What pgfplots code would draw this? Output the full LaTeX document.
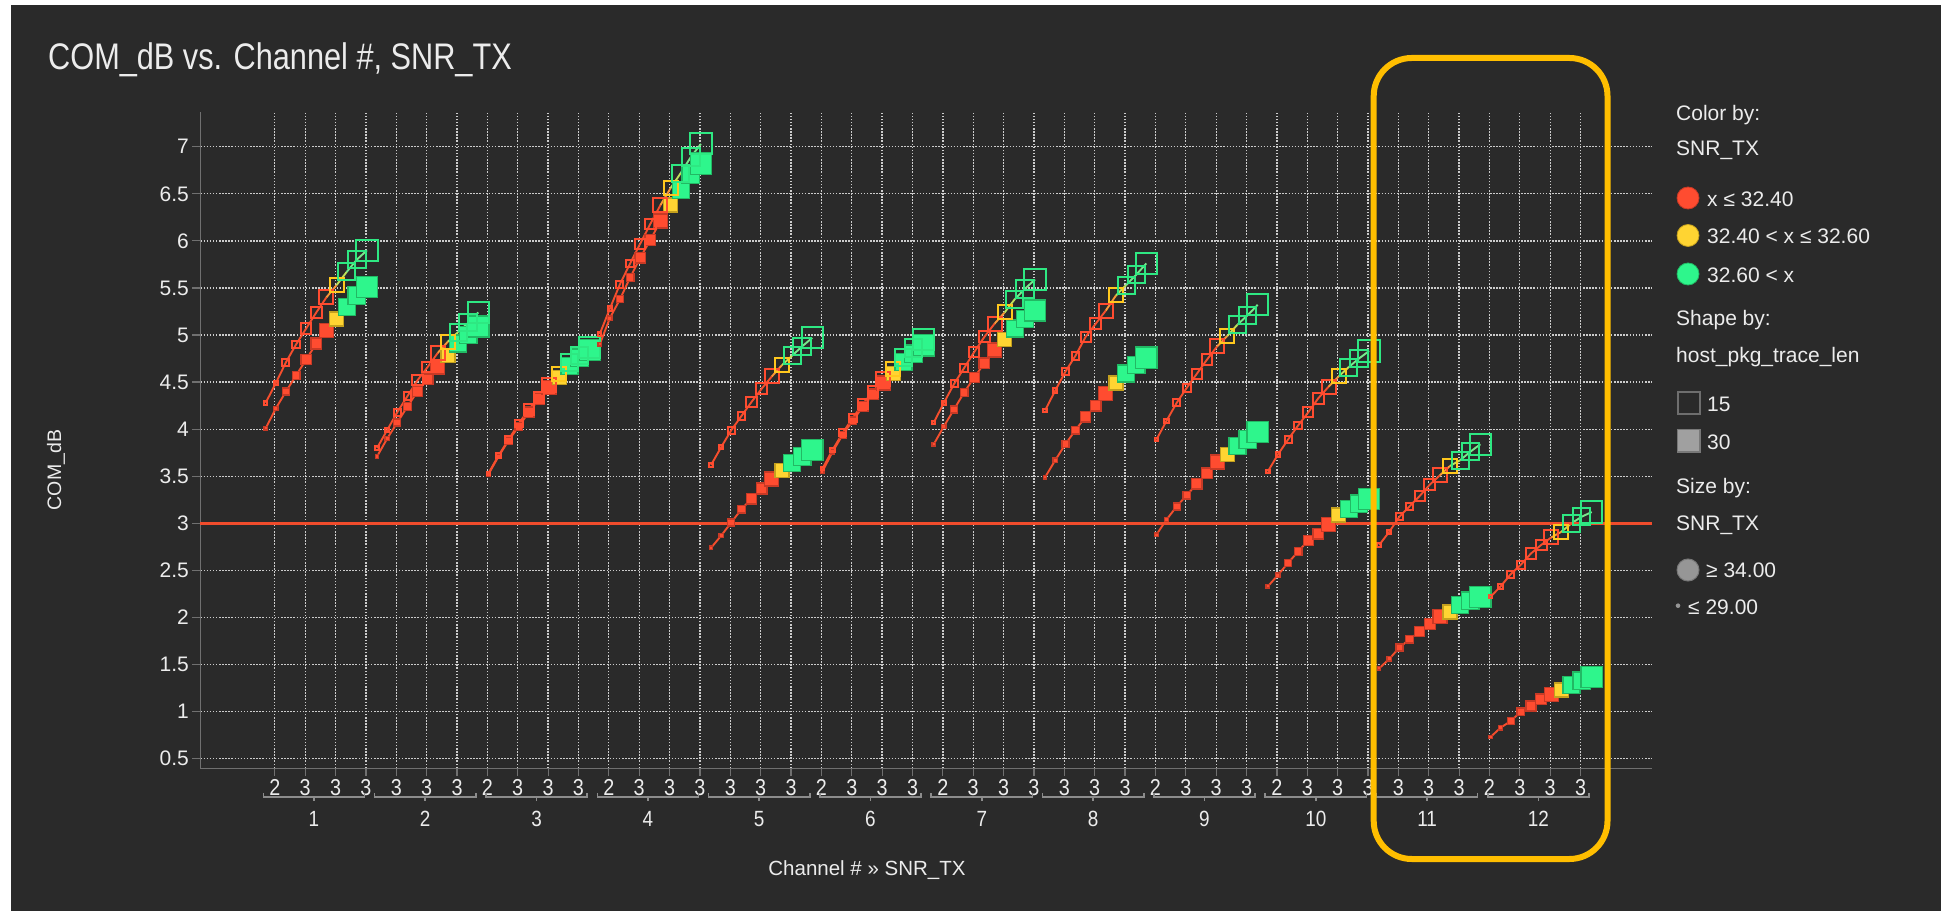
\documentclass[border=0pt]{standalone}
\usepackage{pgfplots}
\pgfplotsset{compat=1.18}
\usepackage{pgfplotstable}
\usepackage{fontspec}
\setmainfont{Liberation Sans}
\newfontfamily\condf[FakeStretch=0.86]{Liberation Sans}
\newfontfamily\titlef[FakeStretch=0.83]{Liberation Sans}

\definecolor{bg}{RGB}{42,42,42}
\definecolor{txt}{RGB}{236,236,236}
\definecolor{axg}{RGB}{112,112,112}
\definecolor{gridc}{RGB}{205,205,205}
\definecolor{brk}{RGB}{140,140,140}
\definecolor{hR}{RGB}{255,76,48}
\definecolor{fR}{RGB}{255,76,48}
\definecolor{eR}{RGB}{200,58,38}
\definecolor{hY}{RGB}{255,200,30}
\definecolor{fY}{RGB}{255,212,50}
\definecolor{eY}{RGB}{196,160,30}
\definecolor{hG}{RGB}{46,232,130}
\definecolor{fG}{RGB}{46,246,140}
\definecolor{eG}{RGB}{34,185,100}
\definecolor{lR}{RGB}{245,78,45}
\definecolor{lO}{RGB}{250,150,55}
\definecolor{lYG}{RGB}{190,225,90}
\definecolor{lG}{RGB}{120,232,140}
\definecolor{thr}{RGB}{240,76,44}
\definecolor{amber}{RGB}{255,190,0}
\definecolor{legO}{RGB}{110,110,110}
\definecolor{legF}{RGB}{160,160,160}
\definecolor{legE}{RGB}{120,120,120}
\definecolor{legC}{RGB}{150,150,150}

% j = SNR step (29.0, 29.5, ..., 34.0); c = colour class; s = half side of marker (pt)
% a = host_pkg_trace_len 15 (hollow), b = host_pkg_trace_len 30 (filled)
\pgfplotstableread{
j c s a b
0 R 1.7 4.28 4.01
1 R 2.2 4.49 4.22
2 R 3.5 4.71 4.40
3 R 3.8 4.90 4.57
4 R 5.1 5.07 4.74
5 R 5.4 5.24 4.91
6 R 7.0 5.40 5.05
7 Y 7.0 5.53 5.17
8 G 8.5 5.67 5.30
9 G 8.7 5.80 5.42
10 G 10.6 5.90 5.51
}\tabA
\pgfplotstableread{
j c s a b
0 R 1.7 3.80 3.71
1 R 2.2 3.99 3.90
2 R 3.5 4.18 4.07
3 R 3.8 4.35 4.24
4 R 5.1 4.52 4.40
5 R 5.4 4.66 4.53
6 R 7.0 4.81 4.66
7 Y 7.0 4.93 4.78
8 G 8.5 5.03 4.91
9 G 8.7 5.13 5.00
10 G 10.6 5.24 5.09
}\tabB
\pgfplotstableread{
j c s a b
0 R 1.7 3.53 3.52
1 R 2.2 3.72 3.71
2 R 3.5 3.89 3.88
3 R 3.8 4.06 4.03
4 R 5.1 4.21 4.18
5 R 5.4 4.34 4.32
6 R 7.0 4.47 4.44
7 Y 7.0 4.59 4.55
8 G 8.5 4.71 4.67
9 G 8.7 4.78 4.76
10 G 10.6 4.87 4.84
}\tabC
\pgfplotstableread{
j c s a b
0 R 1.7 5.01 4.90
1 R 2.2 5.28 5.18
2 R 3.5 5.54 5.38
3 R 3.8 5.76 5.61
4 R 5.1 5.97 5.82
5 R 5.4 6.18 6.01
6 R 7.0 6.38 6.21
7 Y 7.0 6.56 6.38
8 G 8.5 6.72 6.54
9 G 8.7 6.89 6.70
10 G 10.6 7.03 6.82
}\tabD
\pgfplotstableread{
j c s a b
0 R 1.7 3.62 2.74
1 R 2.2 3.81 2.87
2 R 3.5 3.99 3.01
3 R 3.8 4.14 3.15
4 R 5.1 4.29 3.26
5 R 5.4 4.43 3.37
6 R 7.0 4.56 3.47
7 Y 7.0 4.68 3.56
8 G 8.5 4.78 3.64
9 G 8.7 4.88 3.71
10 G 10.6 4.97 3.78
}\tabE
\pgfplotstableread{
j c s a b
0 R 1.7 3.58 3.55
1 R 2.2 3.78 3.76
2 R 3.5 3.96 3.94
3 R 3.8 4.12 4.09
4 R 5.1 4.27 4.24
5 R 5.4 4.40 4.37
6 R 7.0 4.53 4.49
7 Y 7.0 4.64 4.59
8 G 8.5 4.76 4.71
9 G 8.7 4.86 4.80
10 G 10.6 4.95 4.89
}\tabF
\pgfplotstableread{
j c s a b
0 R 1.7 4.07 3.84
1 R 2.2 4.28 4.03
2 R 3.5 4.48 4.21
3 R 3.8 4.65 4.39
4 R 5.1 4.82 4.55
5 R 5.4 4.98 4.70
6 R 7.0 5.12 4.84
7 Y 7.0 5.24 4.95
8 G 8.5 5.38 5.07
9 G 8.7 5.49 5.17
10 G 10.6 5.59 5.26
}\tabG
\pgfplotstableread{
j c s a b
0 R 1.7 4.20 3.49
1 R 2.2 4.41 3.67
2 R 3.5 4.61 3.84
3 R 3.8 4.78 3.99
4 R 5.1 4.98 4.13
5 R 5.4 5.12 4.25
6 R 7.0 5.26 4.38
7 Y 7.0 5.42 4.49
8 G 8.5 5.53 4.59
9 G 8.7 5.64 4.68
10 G 10.6 5.76 4.76
}\tabH
\pgfplotstableread{
j c s a b
0 R 1.7 3.89 2.88
1 R 2.2 4.09 3.04
2 R 3.5 4.28 3.18
3 R 3.8 4.44 3.30
4 R 5.1 4.59 3.42
5 R 5.4 4.74 3.53
6 R 7.0 4.88 3.65
7 Y 7.0 4.99 3.73
8 G 8.5 5.11 3.82
9 G 8.7 5.21 3.89
10 G 10.6 5.32 3.97
}\tabI
\pgfplotstableread{
j c s a b
0 R 1.7 3.55 2.33
1 R 2.2 3.73 2.45
2 R 3.5 3.89 2.58
3 R 3.8 4.04 2.70
4 R 5.1 4.18 2.82
5 R 5.4 4.33 2.89
6 R 7.0 4.45 2.99
7 Y 7.0 4.56 3.09
8 G 8.5 4.66 3.15
9 G 8.7 4.75 3.21
10 G 10.6 4.83 3.26
}\tabJ
\pgfplotstableread{
j c s a b
0 R 1.7 2.77 1.46
1 R 2.2 2.91 1.56
2 R 3.5 3.07 1.68
3 R 3.8 3.18 1.77
4 R 5.1 3.29 1.85
5 R 5.4 3.41 1.93
6 R 7.0 3.51 2.01
7 Y 7.0 3.61 2.06
8 G 8.5 3.67 2.13
9 G 8.7 3.76 2.18
10 G 10.6 3.84 2.22
}\tabK
\pgfplotstableread{
j c s a b
0 R 1.7 2.22 0.73
1 R 2.2 2.33 0.83
2 R 3.5 2.46 0.90
3 R 3.8 2.56 1.00
4 R 5.1 2.68 1.06
5 R 5.4 2.77 1.13
6 R 7.0 2.85 1.18
7 Y 7.0 2.91 1.23
8 G 8.5 3.00 1.28
9 G 8.7 3.07 1.33
10 G 10.6 3.12 1.37
}\tabL

\pgfplotsset{
  hollowsq/.style={only marks, scatter, scatter src=explicit symbolic,
    scatter/classes={
      R={mark=square, draw=hR, line width=2pt},
      Y={mark=square, draw=hY, line width=2pt},
      G={mark=square, draw=hG, line width=2pt}},
    visualization depends on={\thisrow{s} \as \msz},
    scatter/@pre marker code/.append style={/tikz/mark size={\msz pt}}},
  filledsq/.style={only marks, scatter, scatter src=explicit symbolic,
    scatter/classes={
      R={mark=square*, draw=eR, fill=fR, line width=1.3pt},
      Y={mark=square*, draw=eY, fill=fY, line width=1.3pt},
      G={mark=square*, draw=eG, fill=fG, line width=1.3pt}},
    visualization depends on={\thisrow{s} \as \msz},
    scatter/@pre marker code/.append style={/tikz/mark size={\msz pt}}},
  lseg/.style={no markers, draw=#1, line width=1.9pt},
}

\newcommand\drawline[3]{% table, offset, column
  \addplot[lseg=lR, restrict expr to domain={\thisrow{j}}{0:6}] table[x expr=\thisrow{j}+#2, y=#3]{#1};
  \addplot[lseg=lO, restrict expr to domain={\thisrow{j}}{6:7}] table[x expr=\thisrow{j}+#2, y=#3]{#1};
  \addplot[lseg=lYG, restrict expr to domain={\thisrow{j}}{7:8}] table[x expr=\thisrow{j}+#2, y=#3]{#1};
  \addplot[lseg=lG, restrict expr to domain={\thisrow{j}}{8:10}] table[x expr=\thisrow{j}+#2, y=#3]{#1};
}
\newcommand\drawch[2]{%
  \addplot[filledsq] table[x expr=\thisrow{j}+#2, y=b, meta=c]{#1};
  \addplot[hollowsq] table[x expr=\thisrow{j}+#2, y=a, meta=c]{#1};
  \drawline{#1}{#2}{b}
  \drawline{#1}{#2}{a}
}

\begin{document}
\begin{tikzpicture}[x=1pt,y=1pt]
\useasboundingbox (0,0) rectangle (1941,911);
\fill[white] (0,0) rectangle (1941,911);
\fill[bg] (11,0) rectangle (1941,906);

\node[anchor=base west, inner sep=0, text=txt, font=\titlef\fontsize{37}{40}\selectfont] at (48,841) {COM\_dB vs. Channel \#, SNR\_TX};

\begin{axis}[
  at={(198,151.7)}, anchor=south west,
  scale only axis, width=1452pt, height=656.3pt,
  xmin=-6.45, xmax=137, ymin=0.4, ymax=7.37,
  axis lines*=left,
  axis line style={draw=axg, line width=1.3pt},
  xtick={0.9,3.9,...,130},
  xticklabels={2,3,3,3, 3,3,3, 2,3,3,3, 2,3,3,3, 3,3,3, 2,3,3,3, 2,3,3,3, 3,3,3, 2,3,3,3, 2,3,3,3, 3,3,3, 2,3,3,3},
  ytick={0.5,1,...,7},
  tick align=outside, major tick length=8pt,
  tick style={draw=axg, line width=1.2pt},
  grid=major,
  major grid style={draw=gridc, line width=1.3pt, dash pattern=on 1.5pt off 1.6pt},
  xticklabel style={font=\condf\fontsize{23}{25}\selectfont, text=txt},
  yticklabel style={font=\fontsize{21}{24}\selectfont, text=txt},
  /pgf/number format/assume math mode=true,
  clip=false,
]
\drawch{\tabA}{0}
\drawch{\tabB}{11}
\drawch{\tabC}{22}
\drawch{\tabD}{33}
\drawch{\tabE}{44}
\drawch{\tabF}{55}
\drawch{\tabG}{66}
\drawch{\tabH}{77}
\drawch{\tabI}{88}
\drawch{\tabJ}{99}
\drawch{\tabK}{110}
\drawch{\tabL}{121}
\draw[thr, line width=3pt] (axis cs:-6.45,3) -- (axis cs:137,3);
\end{axis}

% channel brackets and labels
\foreach \c in {1,...,12}{
  \pgfmathsetmacro\xa{263.3+111.32*(\c-1)}
  \pgfmathsetmacro\xb{\xa+101.2}
  \pgfmathsetmacro\xm{\xa+50.6}
  \draw[brk, line width=1.5pt] (\xa,118) -- (\xa,114) -- (\xb,114) -- (\xb,118);
  \draw[brk, line width=1.5pt] (\xm,114) -- (\xm,110);
  \node[anchor=base, inner sep=0, text=txt, font=\condf\fontsize{22}{24}\selectfont] at (\xm,85) {\c};
}

% axis titles
\node[anchor=base, inner sep=0, text=txt, font=\fontsize{20.5}{24}\selectfont] at (867,35.5) {Channel \# » SNR\_TX};
\node[rotate=90, inner sep=0, text=txt, font=\fontsize{19.5}{22}\selectfont] at (56,441) {COM\_dB};

% legend
\begin{scope}[every node/.style={anchor=base west, inner sep=0, text=txt, font=\fontsize{21}{24}\selectfont}]
\node at (1676,790) {Color by:};
\node at (1676,755) {SNR\_TX};
\filldraw[fill=fR, draw=eR, line width=0.8pt] (1688,713) circle (11);
\node at (1707,704.2) {x ≤ 32.40};
\filldraw[fill=fY, draw=eY, line width=0.8pt] (1688,675.5) circle (11);
\node at (1707,667) {32.40 < x ≤ 32.60};
\filldraw[fill=fG, draw=eG, line width=0.8pt] (1688,637) circle (11);
\node at (1707,628) {32.60 < x};
\node at (1676,585) {Shape by:};
\node at (1676,548) {host\_pkg\_trace\_len};
\draw[draw=legO, line width=2pt] (1677.5,496.5) rectangle (1700,519);
\node at (1707,499) {15};
\filldraw[fill=legF, draw=legE, line width=1.5pt] (1677.5,459) rectangle (1700,481.5);
\node at (1707,461.4) {30};
\node at (1676,417) {Size by:};
\node at (1676,380.3) {SNR\_TX};
\filldraw[fill=legC, draw=legE, line width=1pt] (1688,341) circle (11);
\node at (1706,333) {≥ 34.00};
\fill[legC] (1678,305.3) circle (2.3);
\node at (1688,296) {≤ 29.00};
\end{scope}

% highlight
\draw[amber, line width=6pt, rounded corners=38pt] (1373.7,853) rectangle (1607.5,52);
\end{tikzpicture}
\end{document}
